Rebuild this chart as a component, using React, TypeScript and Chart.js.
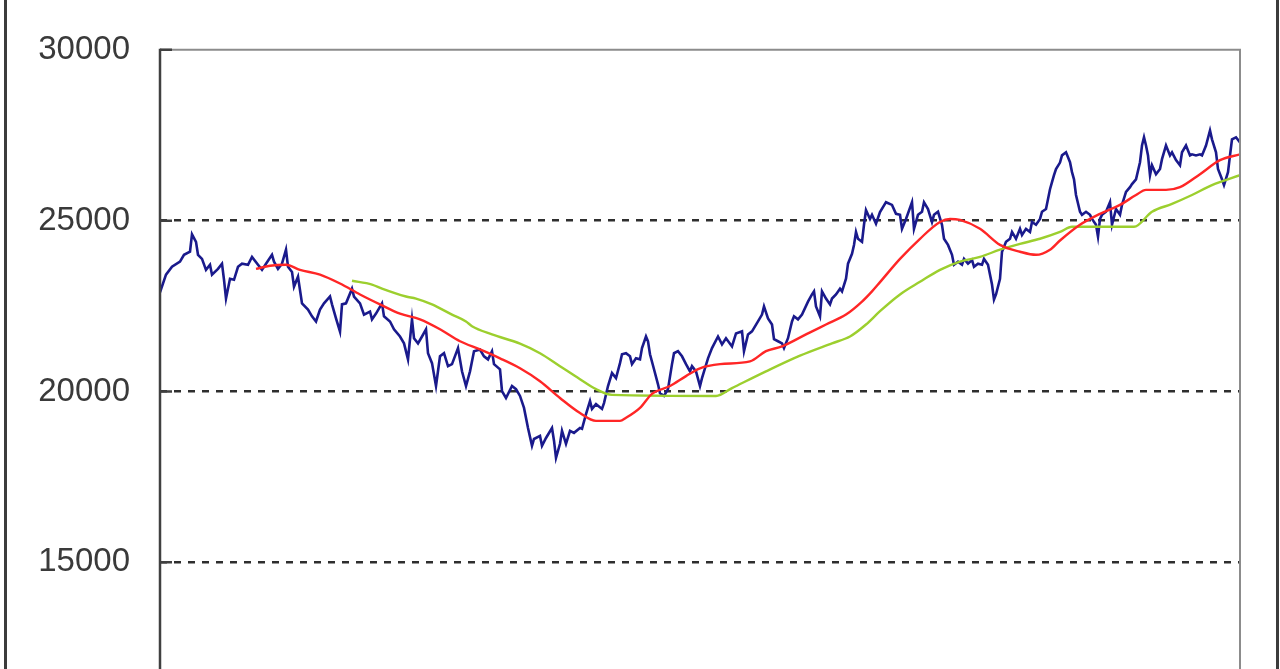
import React, { useEffect, useRef } from "react";
import { Chart, registerables } from "chart.js";

Chart.register(...registerables);

// y-axis tick values
const yTickValues = [10000, 15000, 20000, 25000, 30000];

// Daily closing price (trading day index, value)
const priceDays = [
  0, 3, 6, 10, 12, 15, 16, 18, 19, 21, 23, 25, 26, 29, 31, 32, 33, 35, 37, 39,
  41, 44, 46, 49, 51, 53, 56, 57, 59, 61, 63, 64, 66, 67, 69, 71, 74, 76, 78, 80,
  82, 85, 86, 88, 90, 91, 93, 96, 97, 100, 102, 105, 106, 108, 111, 112, 115, 117, 120, 122,
  124, 126, 127, 129, 131, 133, 134, 136, 138, 140, 142, 144, 146, 149, 151, 153, 155, 157, 160, 162,
  164, 166, 167, 170, 171, 173, 176, 178, 180, 182, 184, 186, 187, 190, 191, 193, 196, 197, 198, 200,
  201, 203, 205, 207, 210, 211, 213, 215, 216, 218, 221, 222, 224, 226, 228, 230, 231, 233, 235, 236,
  238, 240, 241, 243, 244, 245, 247, 249, 250, 252, 254, 256, 257, 259, 261, 263, 265, 266, 268, 270,
  271, 274, 276, 279, 281, 283, 286, 288, 291, 292, 294, 296, 299, 301, 302, 304, 306, 307, 309, 311,
  312, 314, 316, 317, 319, 321, 324, 326, 327, 328, 330, 331, 333, 335, 336, 338, 340, 341, 343, 344,
  346, 347, 348, 349, 351, 352, 353, 355, 356, 358, 360, 363, 366, 368, 370, 371, 373, 376, 377, 379,
  381, 382, 384, 386, 387, 389, 391, 392, 394, 396, 397, 399, 401, 402, 404, 406, 407, 409, 411, 412,
  414, 416, 417, 418, 420, 421, 423, 425, 426, 428, 430, 431, 433, 435, 436, 438, 440, 441, 443, 445,
  446, 447, 448, 450, 451, 453, 455, 456, 457, 458, 460, 461, 463, 465, 466, 468, 469, 470, 471, 473,
  475, 476, 478, 480, 481, 483, 485, 486, 488, 490, 491, 492, 493, 494, 495, 496, 498, 500, 501, 503,
  505, 506, 508, 510, 511, 513, 515, 516, 518, 520, 521, 523, 525, 526, 528, 529, 531, 532, 534, 535,
  536, 538, 540,
];
const priceValues = [
  22900, 23420, 23650, 23800, 24000, 24090, 24600, 24380, 24000, 23880, 23560, 23710, 23420, 23590, 23740, 23270, 22720, 23300, 23270, 23650,
  23740, 23710, 23940, 23710, 23560, 23740, 24000, 23800, 23590, 23740, 24150, 23650, 23500, 23070, 23360, 22580, 22400, 22200, 22050, 22400,
  22580, 22780, 22550, 22140, 21750, 22550, 22580, 23010, 22780, 22580, 22250, 22340, 22110, 22280, 22580, 22200, 22050, 21820, 21610, 21410,
  20940, 22110, 21560, 21410, 21610, 21820, 21120, 20830, 20160, 21030, 21120, 20740, 20800, 21270, 20590, 20160, 20590, 21180, 21230, 21030,
  20940, 21180, 20800, 20650, 20010, 19810, 20160, 20070, 19870, 19520, 18930, 18410, 18610, 18700, 18410, 18640, 18930, 18560, 18060, 18470,
  18850, 18470, 18850, 18790, 18930, 18910, 19340, 19720, 19490, 19630, 19490, 19660, 20160, 20540, 20390, 20830, 21090, 21120, 21030, 20800,
  20970, 20940, 21270, 21610, 21470, 21090, 20650, 20210, 19950, 19870, 20070, 20800, 21120, 21180, 21030, 20800, 20590, 20740, 20590, 20160,
  20390, 20970, 21270, 21610, 21380, 21560, 21320, 21700, 21760, 21180, 21670, 21760, 22050, 22250, 22490, 22140, 21960, 21530, 21470, 21410,
  21270, 21560, 22050, 22200, 22110, 22250, 22630, 22840, 22930, 22490, 22200, 22930, 22720, 22550, 22720, 22840, 23010, 22930, 23300, 23740,
  24030, 24290, 24670, 24470, 24380, 24880, 25310, 25050, 25170, 24910, 25250, 25540, 25460, 25200, 25170, 24760, 25050, 25540, 24760, 25170,
  25260, 25540, 25340, 24960, 25170, 25260, 24880, 24470, 24290, 24000, 23710, 23800, 23710, 23880, 23740, 23850, 23650, 23740, 23710, 23880,
  23710, 23130, 22690, 22840, 23300, 24090, 24380, 24470, 24670, 24470, 24760, 24580, 24760, 24670, 24960, 24880, 25050, 25260, 25340, 25920,
  26130, 26330, 26510, 26700, 26910, 27000, 26710, 26420, 26210, 25750, 25260, 25170, 25260, 25170, 25050, 24880, 24530, 25050, 25170, 25260,
  25540, 24880, 25340, 25170, 25460, 25840, 25980, 26070, 26210, 26710, 27200, 27440, 27200, 26910, 26330, 26620, 26360, 26510, 26800, 27200,
  26910, 27000, 26770, 26620, 27000, 27200, 26910, 26940, 26910, 26940, 26910, 27200, 27640, 27380, 27000, 26510, 26210, 26040, 26420, 26910,
  27380, 27440, 27290,
];

// Short moving average (red)
const shortMaDays = [
  48, 55, 63, 70, 80, 90, 100, 110, 120, 130, 140, 150, 160, 170, 180, 190, 200, 210, 218, 230,
  233, 240, 246, 255, 263, 270, 280, 295, 303, 311, 323, 333, 343, 351, 356, 360, 370, 380, 390, 395,
  400, 410, 420, 430, 438, 445, 450, 460, 470, 480, 488, 493, 503, 510, 520, 530, 540,
];
const shortMaValues = [
  23590, 23680, 23710, 23560, 23420, 23160, 22840, 22550, 22280, 22110, 21820, 21470, 21230, 20970, 20680, 20300, 19810, 19370, 19140, 19140,
  19230, 19520, 19930, 20160, 20450, 20680, 20800, 20880, 21180, 21320, 21670, 21960, 22250, 22630, 22930, 23200, 23880, 24470, 24960, 25050,
  25020, 24760, 24290, 24090, 24000, 24150, 24420, 24880, 25200, 25460, 25750, 25900, 25900, 25980, 26360, 26770, 26940,
];

// Long moving average (green)
const longMaDays = [
  96, 106, 111, 123, 128, 136, 146, 153, 156, 166, 180, 190, 200, 210, 218, 226, 278, 286, 303, 320,
  336, 345, 353, 360, 370, 380, 390, 400, 410, 420, 430, 440, 450, 456, 487, 496, 506, 516, 526, 540,
];
const longMaValues = [
  23240, 23130, 23010, 22780, 22720, 22550, 22250, 22050, 21910, 21670, 21400, 21120, 20740, 20360, 20070, 19900, 19870, 20100, 20590, 21050,
  21410, 21610, 21960, 22350, 22840, 23210, 23560, 23800, 23940, 24150, 24320, 24470, 24670, 24820, 24820, 25260, 25490, 25750, 26040, 26330,
];

const toPoints = (xs: number[], ys: number[]) => xs.map((x, i) => ({ x, y: ys[i] }));

const framePlugin = {
  id: "frame",
  beforeDraw(chart: any) {
    const { ctx, width, height } = chart;
    ctx.save();
    ctx.fillStyle = "#ffffff";
    ctx.fillRect(0, 0, width, height);
    ctx.restore();
  },
  afterDraw(chart: any) {
    const { ctx, width, height } = chart;
    const { left, top, right, bottom } = chart.chartArea;
    ctx.save();
    ctx.setLineDash([]);
    ctx.lineWidth = 2;
    ctx.strokeStyle = "#8c8c8c";
    ctx.beginPath();
    ctx.moveTo(left, top);
    ctx.lineTo(right, top);
    ctx.lineTo(right, bottom);
    ctx.stroke();
    ctx.strokeStyle = "#404040";
    ctx.lineWidth = 2.5;
    ctx.beginPath();
    ctx.moveTo(left, top - 1);
    ctx.lineTo(left, bottom);
    ctx.stroke();
    const ys = chart.scales.y;
    ctx.lineWidth = 2.5;
    ctx.beginPath();
    for (const v of yTickValues) {
      const py = ys.getPixelForValue(v);
      ctx.moveTo(left, py);
      ctx.lineTo(left + 12, py);
    }
    ctx.stroke();
    ctx.lineWidth = 3;
    ctx.strokeStyle = "#3c3c3c";
    ctx.beginPath();
    ctx.moveTo(5.5, 0);
    ctx.lineTo(5.5, height);
    ctx.moveTo(width - 2.5, 0);
    ctx.lineTo(width - 2.5, height);
    ctx.stroke();
    ctx.restore();
  },
};

export default function App() {
  const canvasRef = useRef<HTMLCanvasElement | null>(null);

  useEffect(() => {
    const canvas = canvasRef.current;
    if (!canvas) return;
    const chart = new Chart(canvas, {
      type: "line",
      data: {
        datasets: [
          {
            label: "Price",
            data: toPoints(priceDays, priceValues),
            borderColor: "#1a1a8c",
            borderWidth: 2.6,
            pointRadius: 0,
            tension: 0,
            order: 3,
          },
          {
            label: "Short MA",
            data: toPoints(shortMaDays, shortMaValues),
            borderColor: "#ff2626",
            borderWidth: 2.4,
            pointRadius: 0,
            cubicInterpolationMode: "monotone",
            order: 1,
          },
          {
            label: "Long MA",
            data: toPoints(longMaDays, longMaValues),
            borderColor: "#9ccf2e",
            borderWidth: 2.4,
            pointRadius: 0,
            cubicInterpolationMode: "monotone",
            order: 2,
          },
        ],
      },
      options: {
        animation: false,
        responsive: false,
        maintainAspectRatio: false,
        devicePixelRatio: 1,
        layout: { padding: { left: 0, top: 46, right: 40, bottom: 26 } },
        plugins: {
          legend: { display: false },
          tooltip: { enabled: false },
        },
        scales: {
          x: {
            type: "linear",
            min: 0,
            max: 540,
            display: false,
          },
          y: {
            type: "linear",
            min: 10000,
            max: 30000,
            afterFit: (scale: any) => {
              scale.width = 160;
            },
            afterBuildTicks: (scale: any) => {
              scale.ticks = yTickValues.map((v) => ({ value: v }));
            },
            ticks: {
              padding: 30,
              color: "#3a3a3a",
              font: { family: "'Liberation Sans', Arial, sans-serif", size: 33 },
              callback: (v: any) => String(v),
            },
            grid: {
              drawTicks: false,
              lineWidth: 2.5,
              color: (ctx: any) =>
                ctx.tick && (ctx.tick.value === 30000 || ctx.tick.value === 10000)
                  ? "rgba(0,0,0,0)"
                  : "#2e2e2e",
            },
            border: { display: false, dash: [7, 7] },
          },
        },
      },
      plugins: [framePlugin],
    });
    return () => chart.destroy();
  }, []);

  return (
    <div
      style={{
        position: "fixed",
        left: 0,
        top: 0,
        width: 1280,
        height: 669,
        overflow: "hidden",
        background: "#ffffff",
      }}
    >
      <canvas ref={canvasRef} width={1280} height={783} style={{ display: "block" }} />
    </div>
  );
}
